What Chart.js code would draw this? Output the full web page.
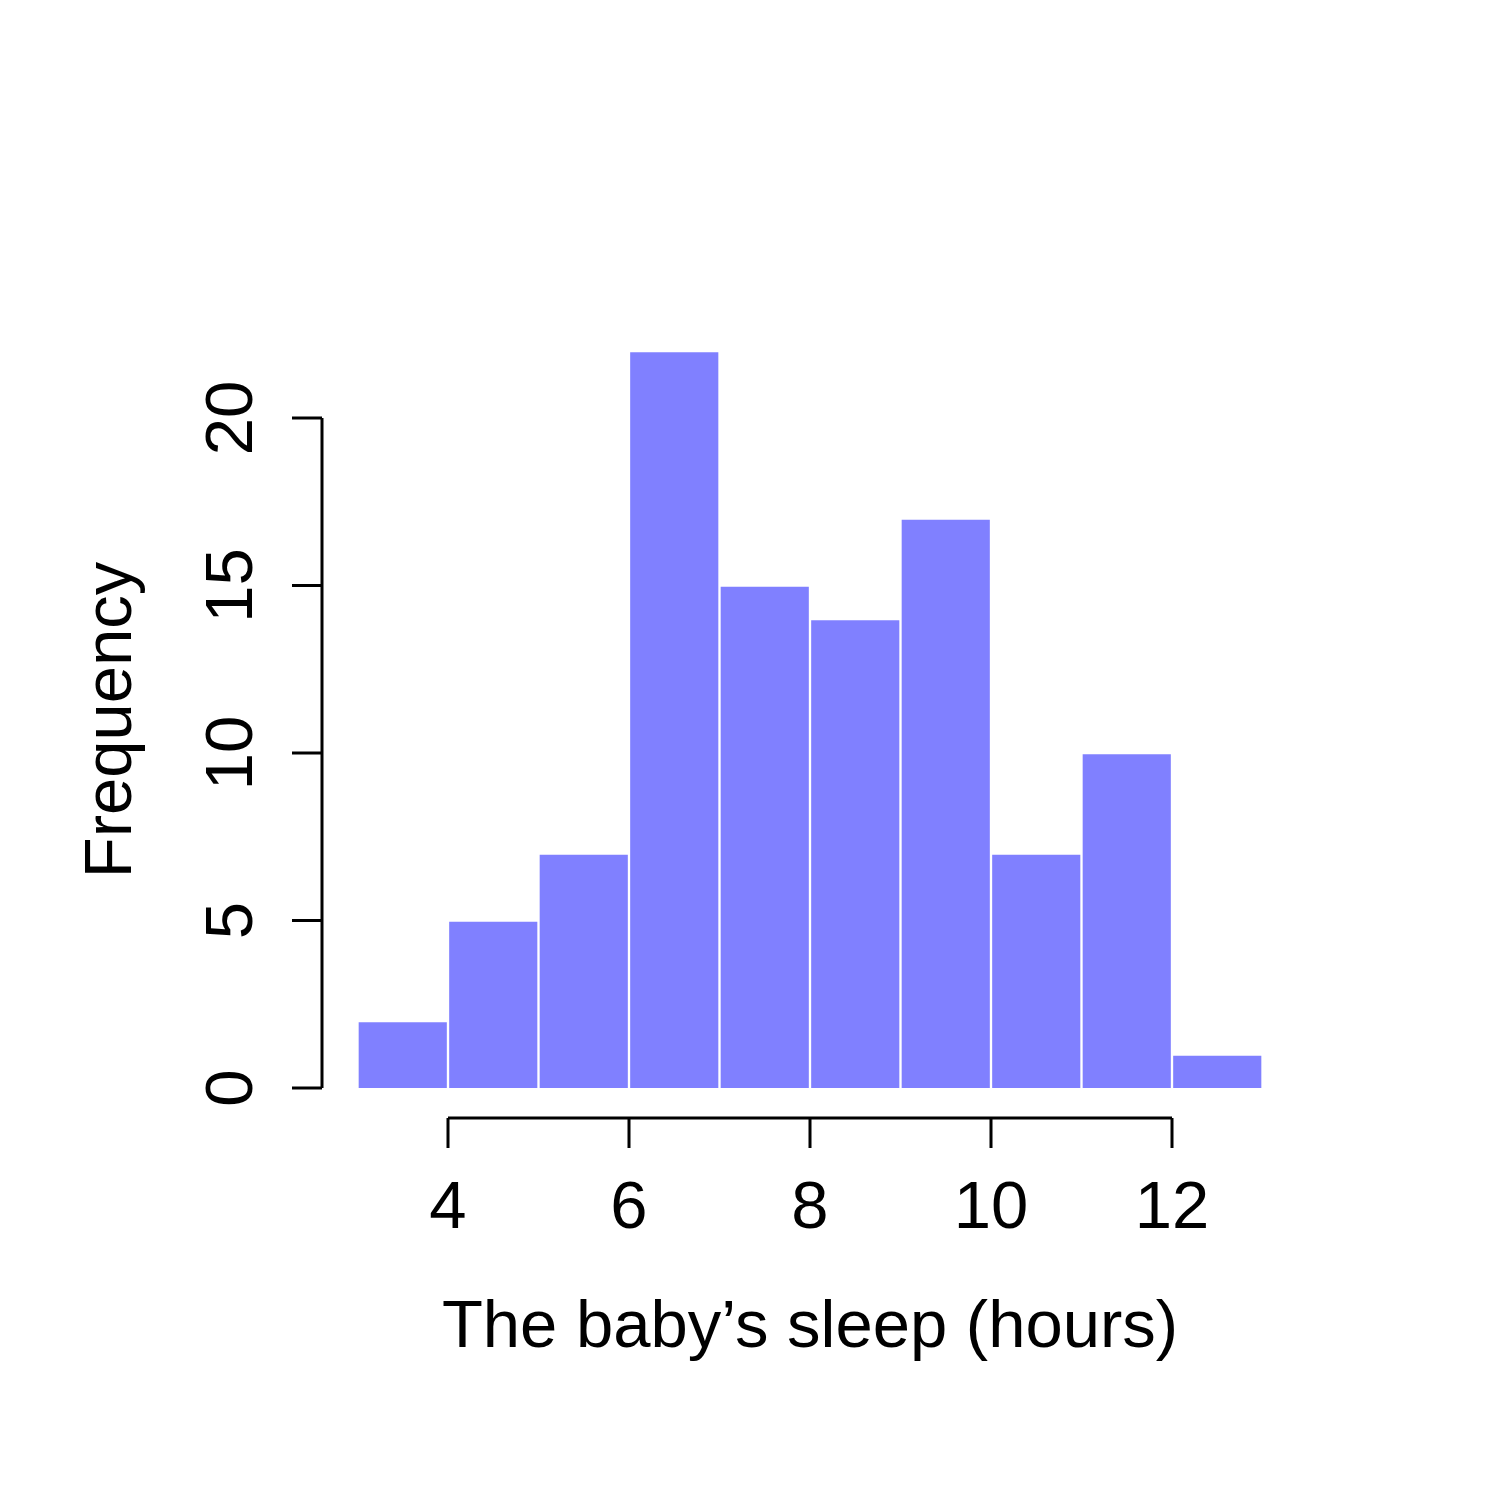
<!DOCTYPE html>
<html>
<head>
<meta charset="utf-8">
<script src="https://cdn.jsdelivr.net/npm/chart.js@4"></script>
<style>
  html, body { margin: 0; padding: 0; background: #fff; }
</style>
</head>
<body>
<canvas id="histChart" width="1500" height="1500"></canvas>
<script>
// histogram bins (left edge of each 1-hour bin) and counts
const binStarts = [3, 4, 5, 6, 7, 8, 9, 10, 11, 12];
const counts = [2, 5, 7, 22, 15, 14, 17, 7, 10, 1];
const xTicks = [4, 6, 8, 10, 12];
const yTicks = [0, 5, 10, 15, 20];
const xTitle = 'The baby\u2019s sleep (hours)';
const yTitle = 'Frequency';

const FONT = '67px "Liberation Sans", Arial, Helvetica, sans-serif';

// R-style detached axes, drawn from the chart's own scales
const rAxes = {
  id: 'rAxes',
  afterDraw(chart) {
    const ctx = chart.ctx;
    const xs = chart.scales.x;
    const ys = chart.scales.y;
    ctx.save();
    ctx.strokeStyle = '#000';
    ctx.fillStyle = '#000';
    ctx.lineWidth = 3;
    ctx.font = FONT;

    // y axis
    const ax = 322;
    ctx.beginPath();
    ctx.moveTo(ax, ys.getPixelForValue(yTicks[0]));
    ctx.lineTo(ax, ys.getPixelForValue(yTicks[yTicks.length - 1]));
    yTicks.forEach(v => {
      const py = ys.getPixelForValue(v);
      ctx.moveTo(ax, py);
      ctx.lineTo(ax - 30, py);
    });
    ctx.stroke();
    ctx.textAlign = 'center';
    ctx.textBaseline = 'alphabetic';
    yTicks.forEach(v => {
      ctx.save();
      ctx.translate(252, ys.getPixelForValue(v));
      ctx.rotate(-Math.PI / 2);
      ctx.fillText(String(v), 0, 0);
      ctx.restore();
    });

    // x axis
    const ay = 1118;
    ctx.beginPath();
    ctx.moveTo(xs.getPixelForValue(xTicks[0]), ay);
    ctx.lineTo(xs.getPixelForValue(xTicks[xTicks.length - 1]), ay);
    xTicks.forEach(v => {
      const px = xs.getPixelForValue(v);
      ctx.moveTo(px, ay);
      ctx.lineTo(px, ay + 30);
    });
    ctx.stroke();
    xTicks.forEach(v => {
      ctx.fillText(String(v), xs.getPixelForValue(v), 1228);
    });

    // titles
    ctx.fillText(xTitle, xs.getPixelForValue(8), 1347);
    ctx.save();
    ctx.translate(131, 720);
    ctx.rotate(-Math.PI / 2);
    ctx.fillText(yTitle, 0, 0);
    ctx.restore();

    ctx.restore();
  }
};

new Chart(document.getElementById('histChart').getContext('2d'), {
  type: 'bar',
  data: {
    datasets: [{
      data: binStarts.map((b, i) => ({ x: b + 0.5, y: counts[i] })),
      backgroundColor: '#8080ff',
      borderColor: '#ffffff',
      borderWidth: 1.5,
      borderSkipped: 'bottom',
      barPercentage: 1,
      categoryPercentage: 1
    }]
  },
  options: {
    responsive: false,
    animation: false,
    devicePixelRatio: 1,
    layout: { padding: { left: 357.5, right: 237.5, top: 351, bottom: 412 } },
    plugins: { legend: { display: false }, tooltip: { enabled: false } },
    scales: {
      x: { type: 'linear', min: 3, max: 13, offset: false, display: false },
      y: { min: 0, max: 22, display: false }
    }
  },
  plugins: [rAxes]
});
</script>
</body>
</html>
